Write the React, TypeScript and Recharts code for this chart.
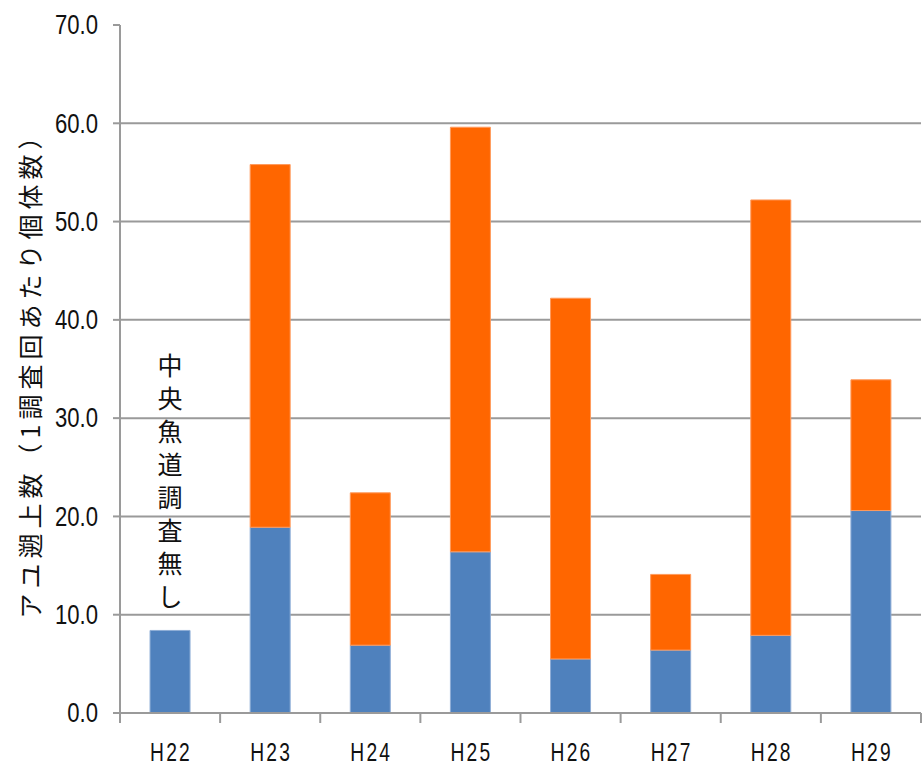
import { Bar, BarChart, CartesianGrid, LabelList, XAxis, YAxis, Label } from 'recharts'

const YEARS = ['H22', 'H23', 'H24', 'H25', 'H26', 'H27', 'H28', 'H29']
// 下段（青）と上段（橙）の値
const LOWER = [8.4, 18.9, 6.9, 16.4, 5.5, 6.4, 7.9, 20.6]
const UPPER = [null, 36.9, 15.5, 43.2, 36.7, 7.7, 44.3, 13.3]
const Y_TICKS = [0, 10, 20, 30, 40, 50, 60, 70]
const GRID_VALUES = [10, 20, 30, 40, 50, 60]
const Y_LABEL = 'アユ遡上数（1調査回あたり個体数）'
const NOTE = '中央魚道調査無し'

const data = YEARS.map((year, i) => ({ year, lower: LOWER[i], upper: UPPER[i] }))

const GRAY = '#9a9a9a'
const JP_FONT = '"Noto Sans CJK JP", "Noto Sans", sans-serif'
const LATIN = '"Liberation Sans", Arial, sans-serif'

function XTick(props: any) {
  const { x, y, payload, index } = props
  const half = payload?.offset ?? 50
  return (
    <g>
      <line x1={x - half} x2={x - half} y1={y - 8} y2={y + 2} stroke={GRAY} strokeWidth={2} />
      {index === YEARS.length - 1 && (
        <line x1={x + half} x2={x + half} y1={y - 8} y2={y + 2} stroke={GRAY} strokeWidth={2} />
      )}
      <text
        transform={`translate(${x + 1}, ${y + 40}) scale(0.74, 1)`}
        textAnchor="middle"
        fontFamily={LATIN}
        fontSize={26}
        letterSpacing={3}
        fill="#111"
      >
        {payload.value}
      </text>
    </g>
  )
}

function YTick(props: any) {
  const { x, y, payload } = props
  return (
    <text
      transform={`translate(${x}, ${y}) scale(0.82, 1)`}
      textAnchor="end"
      dominantBaseline="central"
      fontFamily={LATIN}
      fontSize={27}
      fill="#111"
    >
      {Number(payload.value).toFixed(1)}
    </text>
  )
}

function NoteLabel(props: any) {
  const { x, y, width, index } = props
  if (index !== 0) return null
  const cx = x + width / 2
  const chars = NOTE.split('')
  const bottom = y - 24
  const step = 33
  const top = bottom - step * (chars.length - 1)
  return (
    <text textAnchor="middle" fontFamily={JP_FONT} fontSize={25} fill="#111">
      {chars.map((c, i) => (
        <tspan key={i} x={cx} y={top + i * step}>
          {c}
        </tspan>
      ))}
    </text>
  )
}

function YTitle() {
  return (
    <text
      x={0}
      y={0}
      transform="translate(29, 369) rotate(-90)"
      textAnchor="middle"
      dominantBaseline="central"
      fontFamily={JP_FONT}
      fontSize={25}
      letterSpacing={5}
      fill="#111"
    >
      {Y_LABEL}
    </text>
  )
}

export default function App() {
  return (
    <div style={{ position: 'absolute', left: 0, top: 0, background: '#fff' }}>
      <BarChart
        width={923}
        height={767}
        data={data}
        margin={{ top: 25, right: 2, bottom: 0, left: 0 }}
        barCategoryGap="30%"
      >
        <CartesianGrid vertical={false} horizontalValues={GRID_VALUES} stroke={GRAY} strokeWidth={2} />
        <XAxis
          dataKey="year"
          height={54}
          axisLine={{ stroke: GRAY, strokeWidth: 2 }}
          tickLine={false}
          tick={<XTick />}
          interval={0}
        />
        <YAxis
          width={120}
          domain={[0, 70]}
          ticks={Y_TICKS}
          interval={0}
          axisLine={{ stroke: GRAY, strokeWidth: 2 }}
          tickLine={{ stroke: GRAY, strokeWidth: 2 }}
          tickSize={7}
          tickMargin={15}
          tick={<YTick />}
        >
          <Label content={<YTitle />} />
        </YAxis>
        <Bar dataKey="lower" stackId="a" fill="#4f81bd" stroke="#8eadd6" strokeWidth={1} isAnimationActive={false}>
          <LabelList dataKey="lower" content={<NoteLabel />} />
        </Bar>
        <Bar dataKey="upper" stackId="a" fill="#ff6600" stroke="#ff9a5c" strokeWidth={1} isAnimationActive={false} />
      </BarChart>
    </div>
  )
}
